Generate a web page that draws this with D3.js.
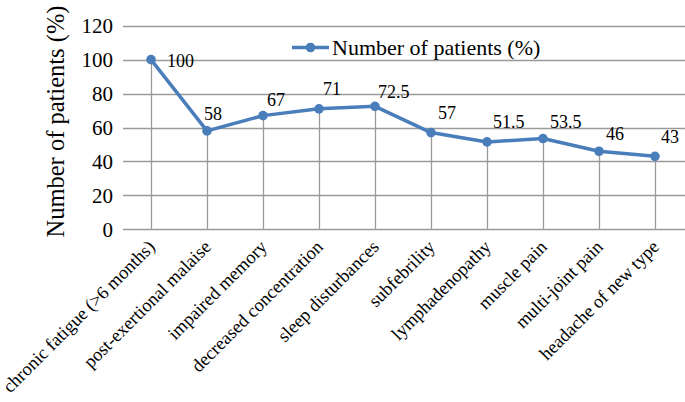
<!DOCTYPE html>
<html><head><meta charset="utf-8">
<script src="https://cdn.jsdelivr.net/npm/d3@7/dist/d3.min.js"></script>
<style>html,body{margin:0;padding:0;background:#fff;}svg{display:block;}
text{font-family:"Liberation Serif","Times New Roman","DejaVu Serif",serif;}</style>
</head><body>
<svg id="chart" width="685" height="402"></svg>
<script>
const categories = ["chronic fatigue (>6 months)","post-exertional malaise","impaired memory","decreased concentration","sleep disturbances","subfebrility","lymphadenopathy","muscle pain","multi-joint pain","headache of new type"];
const values = [100, 58, 67, 71, 72.5, 57, 51.5, 53.5, 46, 43];
const valueLabels = ["100","58","67","71","72.5","57","51.5","53.5","46","43"];
const yTicks = [0, 20, 40, 60, 80, 100, 120];
const seriesName = "Number of patients (%)";
const yTitle = "Number of patients (%)";
// label nudges (dx, dy) relative to each point
const labelDx = [16, -3, 4, 4, 3, 7, 6, 7, 7, 6];
const labelDy = [7, -11, -10, -14, -8, -14, -14, -11, -11, -13];

(function () {
const svg = d3.select("#chart");
const mLeft = 123, mRight = 683, mTop = 25.7, mBottom = 229.3;
const color = "#4a7ebb", grid = "#9a9a9a";

const x = d3.scaleBand().domain(categories).range([mLeft, mRight]);
const y = d3.scaleLinear().domain([0, 120]).range([mBottom, mTop]);
const cx = d => x(d) + x.bandwidth() / 2;

svg.append("g").selectAll("line").data(yTicks).join("line")
  .attr("x1", mLeft).attr("x2", 685)
  .attr("y1", d => Math.round(y(d)) + 0.5).attr("y2", d => Math.round(y(d)) + 0.5)
  .attr("stroke", grid).attr("stroke-width", 1.3);

const yAxis = d3.axisLeft(y).tickValues(yTicks).tickSize(0).tickPadding(10);
const ya = svg.append("g").attr("transform", `translate(${mLeft},0)`).call(yAxis);
ya.select(".domain").remove();
ya.attr("font-family", null);
ya.selectAll("text").attr("font-size", 21).attr("fill", "#000").attr("dy", "0.34em");

svg.append("g").selectAll("line").data(categories).join("line")
  .attr("x1", d => Math.round(cx(d)) + 0.5).attr("x2", d => Math.round(cx(d)) + 0.5)
  .attr("y1", y(0)).attr("y2", (d, i) => y(values[i]))
  .attr("stroke", grid).attr("stroke-width", 1.3);

const line = d3.line().x((d, i) => cx(categories[i])).y(d => y(d));
svg.append("path").datum(values).attr("d", line)
  .attr("fill", "none").attr("stroke", color).attr("stroke-width", 3.5).attr("stroke-linejoin", "round");
svg.append("g").selectAll("circle").data(values).join("circle")
  .attr("cx", (d, i) => cx(categories[i])).attr("cy", d => y(d)).attr("r", 4.8).attr("fill", color);

svg.append("g").selectAll("text").data(values).join("text")
  .attr("x", (d, i) => cx(categories[i]) + labelDx[i])
  .attr("y", (d, i) => y(d) + labelDy[i])
  .attr("font-size", 18).attr("fill", "#000")
  .text((d, i) => valueLabels[i]);

svg.append("g").selectAll("text").data(categories).join("text")
  .attr("transform", d => `translate(${cx(d) + 5},${248}) rotate(-45)`)
  .attr("text-anchor", "end")
  .attr("font-size", 18.4).attr("fill", "#000")
  .text(d => d);

svg.append("text").attr("transform", `translate(64,121.5) rotate(-90)`)
  .attr("text-anchor", "middle").attr("font-size", 24.5).attr("fill", "#000")
  .text(yTitle);

const lg = svg.append("g").attr("transform", "translate(292,47.5)");
lg.append("line").attr("x1", 0).attr("x2", 37).attr("y1", 0).attr("y2", 0).attr("stroke", color).attr("stroke-width", 3.5);
lg.append("circle").attr("cx", 18.5).attr("cy", 0).attr("r", 4.8).attr("fill", color);
lg.append("text").attr("x", 40).attr("y", 7.5).attr("font-size", 22).attr("fill", "#000").text(seriesName);
})();
</script>
</body></html>
